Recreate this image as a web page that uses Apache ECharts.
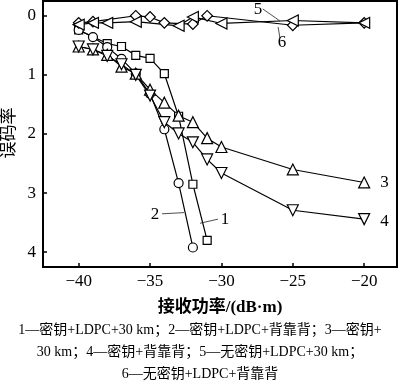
<!DOCTYPE html>
<html><head><meta charset="utf-8">
<script src="https://cdn.jsdelivr.net/npm/echarts@6/dist/echarts.min.js"></script>
<style>html,body{margin:0;padding:0;background:#fff}#c{width:400px;height:386px}</style>
</head><body><div id="c"></div>
<script>
// ---- data ----
const xTicks = [-40, -35, -30, -25, -20];
const yTicks = [0, 1, 2, 3, 4];
const x1 = [-40, -38, -37, -36, -35, -34, -33, -32, -31];
const y1 = [0.24, 0.47, 0.52, 0.67, 0.72, 0.98, 1.70, 2.85, 3.80];
const x2 = [-40, -39, -38, -37, -36, -35, -34, -33, -32];
const y2 = [0.24, 0.36, 0.53, 0.73, 0.98, 1.32, 1.92, 2.83, 3.92];
const x3 = [-40, -39, -38, -37, -36, -35, -34, -33, -32, -31, -30, -25, -20];
const y3 = [0.52, 0.57, 0.66, 0.86, 0.98, 1.25, 1.47, 1.69, 1.80, 2.07, 2.22, 2.60, 2.82];
const x4 = [-40, -39, -38, -37, -36, -35, -34, -33, -32, -31, -30, -25, -20];
const y4 = [0.52, 0.57, 0.68, 0.82, 1.00, 1.35, 1.80, 1.99, 2.14, 2.43, 2.66, 3.29, 3.44];
const x5 = [-40, -39, -36, -35, -34, -32, -31, -25, -20];
const y5 = [0.12, 0.10, 0.00, 0.02, 0.12, 0.14, 0.00, 0.16, 0.12];
const x6 = [-40, -39, -38, -36, -33, -32, -30, -25, -20];
const y6 = [0.15, 0.12, 0.12, 0.10, 0.17, 0.02, 0.13, 0.08, 0.12];
const seriesNames = ['1', '2', '3', '4', '5', '6'];
const xName = '接收功率/(dB·m)';
const yName = '误码率';
const captionLines = [
  '1—密钥+LDPC+30 km；2—密钥+LDPC+背靠背；3—密钥+',
  '30 km；4—密钥+背靠背；5—无密钥+LDPC+30 km；',
  '6—无密钥+LDPC+背靠背'
];
// annotation anchors (data space): [textX, textY, lineX1, lineY1, lineX2, lineY2]
const ann1 = [-29.75, 3.44, -31.5, 3.51, -30.24, 3.44];
const ann2 = [-34.65, 3.37, -34.16, 3.35, -32.62, 3.33];
const ann5 = [-27.43, -0.10, -27.1, -0.115, -25.9, 0.088];
const ann6 = [-25.75, 0.46, -26.03, 0.19, -25.9, 0.376];

const FONT = "'Liberation Serif','Noto Sans CJK SC',serif";
const zip = (xs, ys) => xs.map((x, i) => [x, ys[i]]);

function annot(a, txt) {
  return {
    markLine: {
      silent: true, symbol: ['none', 'none'], animation: false,
      lineStyle: { color: '#222', width: 0.8, type: 'solid' },
      label: { show: false },
      data: [[{ coord: [a[2], a[3]] }, { coord: [a[4], a[5]] }]]
    },
    markPoint: {
      silent: true, animation: false, symbol: 'circle', symbolSize: 1,
      itemStyle: { color: 'rgba(0,0,0,0)' },
      label: { show: true, position: 'inside', formatter: txt, color: '#000', fontSize: 17, fontFamily: FONT },
      data: [{ coord: [a[0], a[1]] }]
    }
  };
}

function mk(name, xs, ys, symbol, size, rot, extra) {
  return Object.assign({
    name, type: 'line', data: zip(xs, ys),
    symbol, symbolSize: size, symbolRotate: rot || 0, showSymbol: true,
    lineStyle: { color: '#000', width: 1.2 },
    itemStyle: { color: '#fff', borderColor: '#000', borderWidth: 1.2 },
    animation: false, z: 3
  }, extra || {});
}

const chart = echarts.init(document.getElementById('c'), null, { renderer: 'canvas' });
chart.setOption({
  backgroundColor: '#fff',
  grid: { left: 43, right: 3, top: 1, bottom: 119, show: true, borderColor: '#000', borderWidth: 2, outerBoundsMode: 'none' },
  xAxis: {
    type: 'value', min: -42.5, max: -17.7,
    name: xName, nameLocation: 'middle', nameGap: 32,
    nameTextStyle: { fontSize: 17, fontWeight: 'bold', fontFamily: FONT, color: '#000' },
    axisLine: { show: true, onZero: false, lineStyle: { color: '#000', width: 2 } },
    axisTick: { show: true, inside: true, length: 4, customValues: xTicks, lineStyle: { color: '#000', width: 1.5 } },
    axisLabel: { customValues: xTicks, fontSize: 17, fontFamily: FONT, color: '#000', margin: 6,
      formatter: v => String(v).replace('-', '−') },
    splitLine: { show: false }
  },
  yAxis: {
    type: 'value', inverse: true, min: -0.25, max: 4.25,
    axisLine: { show: true, onZero: false, lineStyle: { color: '#000', width: 2 } },
    axisTick: { show: true, inside: true, length: 4, customValues: yTicks, lineStyle: { color: '#000', width: 1.5 } },
    axisLabel: { customValues: yTicks, fontSize: 17, fontFamily: FONT, color: '#000', margin: 7 },
    splitLine: { show: false }
  },
  series: [
    mk(seriesNames[0], x1, y1, 'rect', 8, 0, annot(ann1, '1')),
    mk(seriesNames[1], x2, y2, 'circle', 9, 0, annot(ann2, '2')),
    mk(seriesNames[2], x3, y3, 'triangle', 11, 0, {
      endLabel: { show: true, formatter: '3', fontSize: 17, fontFamily: FONT, color: '#000', offset: [8, 0] } }),
    mk(seriesNames[3], x4, y4, 'triangle', 11, 180, {
      endLabel: { show: true, formatter: '4', fontSize: 17, fontFamily: FONT, color: '#000', offset: [8, 2] } }),
    mk(seriesNames[4], x5, y5, 'rect', 7.5, 45, annot(ann5, '5')),
    mk(seriesNames[5], x6, y6, 'triangle', 11, 90, annot(ann6, '6'))
  ],
  graphic: captionLines.map((t, i) => ({
    type: 'text', left: 'center', top: 323 + i * 22,
    style: { text: t, font: "14px 'Liberation Serif','Noto Sans CJK SC',serif", fill: '#000' }
  })).concat([{
    type: 'text', x: 10, y: 133, rotation: Math.PI / 2,
    style: { text: yName, font: "17px 'Liberation Serif','Noto Sans CJK SC',serif", fill: '#000',
      align: 'center', verticalAlign: 'middle' }
  }])
});
</script></body></html>
